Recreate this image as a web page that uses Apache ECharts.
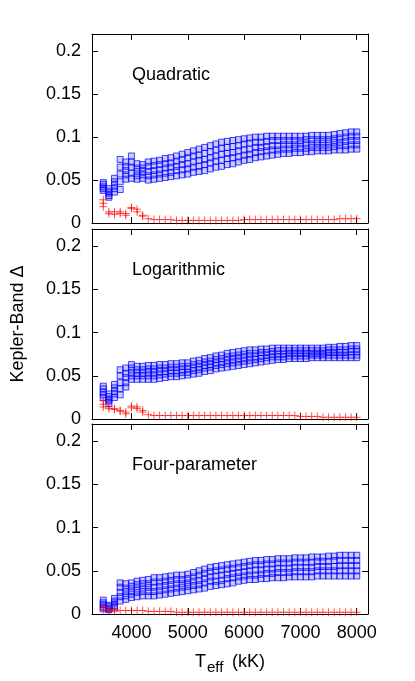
<!DOCTYPE html>
<html>
<head>
<meta charset="utf-8">
<script src="https://cdn.jsdelivr.net/npm/echarts@6/dist/echarts.min.js"></script>
<style>
  html, body { margin: 0; padding: 0; background: #fff; }
  #chart { width: 415px; height: 681px; }
</style>
</head>
<body>
<div id="chart"></div>
<script>
// effective temperature grid (K)
const temps = [3500,3600,3700,3800,3900,4000,4100,4200,4300,4400,4500,4600,4700,4800,4900,
  5000,5100,5200,5300,5400,5500,5600,5700,5800,5900,6000,6100,6200,6300,6400,6500,6600,
  6700,6800,6900,7000,7100,7200,7300,7400,7500,7600,7700,7800,7900,8000];
const xTicks = [4000, 5000, 6000, 7000, 8000];
const yTicks = [0, 0.05, 0.1, 0.15, 0.2];
const panelNames = ['Quadratic', 'Logarithmic', 'Four-parameter'];

// Quadratic law: blue squares, read per temperature column (low -> high)
const quad1 = [.038,.030,.036,.039,.051,.052,.051,.052,.050,.051,.052,.053,.054,.055,.056,.057,.059,.060,.061,.063,.065,.066,.068,.069,.071,.073,.074,.076,.077,.078,.079,.080,.081,.081,.082,.082,.083,.083,.084,.084,.084,.085,.085,.085,.086,.086];
const quad2 = [.040,.032,.040,.048,.056,.058,.055,.056,.055,.056,.057,.058,.059,.061,.062,.063,.065,.066,.068,.070,.072,.073,.075,.076,.077,.079,.080,.082,.083,.084,.085,.085,.086,.086,.087,.087,.087,.088,.088,.088,.088,.089,.090,.090,.091,.091];
const quad3 = [.042,.035,.044,.057,.061,.065,.060,.060,.060,.061,.062,.064,.065,.066,.068,.069,.071,.073,.074,.076,.078,.080,.081,.082,.084,.085,.086,.088,.088,.089,.090,.090,.091,.091,.091,.092,.092,.092,.093,.093,.093,.094,.094,.095,.096,.096];
const quad4 = [.045,.037,.048,.065,.066,.071,.064,.064,.066,.067,.068,.069,.070,.072,.074,.076,.078,.079,.081,.083,.085,.087,.088,.089,.090,.092,.093,.094,.094,.095,.096,.096,.096,.096,.096,.096,.097,.097,.097,.097,.097,.098,.099,.100,.101,.101];
const quad5 = [.047,.040,.052,.074,.071,.078,.069,.068,.071,.072,.073,.075,.076,.078,.080,.082,.084,.086,.088,.090,.092,.094,.095,.096,.097,.098,.099,.100,.100,.101,.101,.101,.101,.101,.101,.101,.101,.102,.102,.102,.102,.103,.104,.105,.106,.106];
const quadRed = [.023,.011,.010,.011,.009,.017,.013,.008,.005,.004,.004,.004,.004,.003,.003,.003,.003,.003,.003,.003,.003,.003,.003,.003,.003,.004,.004,.004,.004,.004,.004,.004,.004,.004,.004,.004,.004,.004,.004,.004,.004,.004,.005,.005,.005,.005];
const quadRedExtraT = [3500,3500,3600,3700,3800,3900,4000,4100,4200];
const quadRedExtraV = [.027,.019,.013,.013,.013,.011,.018,.016,.009];

// Logarithmic law
const log1 = [.025,.018,.025,.028,.037,.046,.046,.046,.046,.046,.047,.048,.049,.049,.050,.051,.052,.053,.055,.056,.058,.059,.060,.061,.062,.063,.064,.065,.066,.067,.068,.069,.069,.070,.070,.070,.070,.071,.071,.071,.071,.071,.071,.071,.071,.071];
const log2 = [.028,.021,.029,.035,.042,.050,.050,.050,.050,.050,.051,.052,.053,.053,.054,.054,.056,.057,.059,.060,.062,.063,.064,.065,.066,.067,.068,.069,.070,.071,.072,.072,.072,.073,.073,.073,.073,.074,.074,.074,.074,.074,.074,.074,.074,.074];
const log3 = [.031,.023,.032,.042,.048,.054,.053,.053,.054,.054,.055,.055,.056,.056,.057,.058,.059,.060,.062,.063,.065,.066,.068,.069,.070,.071,.072,.072,.073,.074,.075,.075,.075,.076,.076,.076,.076,.076,.076,.076,.077,.077,.077,.077,.078,.078];
const log4 = [.035,.026,.036,.050,.053,.059,.057,.057,.058,.058,.059,.059,.060,.060,.061,.061,.063,.064,.066,.067,.069,.070,.072,.073,.074,.075,.076,.076,.077,.077,.078,.079,.079,.079,.079,.079,.079,.079,.079,.079,.080,.080,.080,.080,.081,.081];
const log5 = [.038,.029,.040,.057,.059,.063,.061,.061,.062,.062,.063,.063,.064,.064,.065,.065,.067,.068,.070,.071,.073,.074,.076,.077,.078,.079,.080,.080,.081,.081,.082,.082,.082,.082,.082,.082,.082,.082,.082,.082,.083,.083,.084,.084,.085,.085];
const logRed = [.017,.012,.011,.009,.006,.013,.012,.008,.005,.004,.004,.004,.004,.004,.004,.004,.004,.004,.004,.004,.004,.004,.004,.004,.004,.004,.004,.004,.004,.004,.004,.004,.004,.004,.004,.003,.003,.003,.003,.002,.002,.002,.002,.002,.002,.002];
const logRedExtraT = [3500,3500,3600,3700,3800,3900,4000,4100,4200];
const logRedExtraV = [.021,.014,.014,.012,.010,.008,.015,.014,.010];

// Four-parameter law
const four1 = [.006,.005,.008,.015,.017,.019,.020,.021,.021,.021,.022,.023,.024,.025,.026,.027,.028,.029,.030,.032,.033,.034,.035,.036,.038,.039,.040,.040,.041,.041,.042,.042,.042,.043,.043,.043,.043,.043,.044,.044,.044,.044,.044,.044,.044,.044];
const four2 = [.008,.006,.010,.020,.021,.023,.025,.026,.026,.026,.027,.028,.029,.030,.031,.032,.033,.034,.036,.038,.038,.039,.041,.042,.043,.044,.045,.045,.046,.047,.047,.048,.048,.048,.049,.049,.049,.049,.050,.050,.050,.050,.050,.050,.050,.050];
const four3 = [.011,.007,.013,.025,.026,.027,.029,.030,.031,.031,.032,.033,.034,.035,.035,.036,.038,.039,.041,.043,.044,.045,.046,.047,.048,.049,.050,.051,.051,.052,.052,.053,.053,.053,.054,.054,.054,.054,.055,.055,.055,.055,.056,.056,.056,.056];
const four4 = [.013,.009,.015,.031,.030,.032,.034,.035,.035,.037,.037,.038,.039,.040,.040,.041,.043,.045,.047,.049,.050,.051,.052,.053,.054,.055,.056,.057,.057,.058,.058,.059,.059,.059,.060,.060,.060,.060,.061,.061,.061,.062,.062,.062,.062,.062];
const four5 = [.016,.010,.018,.036,.035,.036,.038,.039,.040,.042,.042,.043,.044,.045,.045,.046,.048,.050,.052,.054,.055,.056,.057,.058,.059,.060,.061,.062,.062,.063,.063,.064,.064,.064,.065,.065,.065,.066,.066,.066,.067,.067,.068,.068,.068,.068];
const fourRed = [.008,.005,.005,.004,.004,.004,.004,.004,.003,.003,.003,.003,.003,.002,.002,.002,.002,.002,.002,.002,.002,.002,.002,.002,.002,.002,.002,.002,.002,.002,.002,.002,.002,.002,.002,.002,.002,.002,.002,.002,.002,.002,.002,.002,.002,.002];
const fourRedExtraT = [3500,3600,3700];
const fourRedExtraV = [.005,.004,.003];

const panels = [
  { blue: [quad1, quad2, quad3, quad4, quad5], red: quadRed, exT: quadRedExtraT, exV: quadRedExtraV },
  { blue: [log1, log2, log3, log4, log5], red: logRed, exT: logRedExtraT, exV: logRedExtraV },
  { blue: [four1, four2, four3, four4, four5], red: fourRed, exT: fourRedExtraT, exV: fourRedExtraV }
];

const font = 'Liberation Sans';
const plusPath = 'path://M0,5L10,5M5,0L5,10';
const gridTops = [34, 229, 424];
const gridHeights = [189, 190, 190];

let chart = echarts.init(document.getElementById('chart'));

const grid = gridTops.map((t, i) => ({ left: 92, right: 47, top: t, height: gridHeights[i] }));
const xAxis = [];
const yAxis = [];
const series = [];

gridTops.forEach((t, i) => {
  const last = i === 2;
  ['bottom', 'top'].forEach(pos => {
    xAxis.push({
      gridIndex: i, type: 'value', position: pos, min: 3300, max: 8200,
      axisLine: { show: true, onZero: false, lineStyle: { color: '#000', width: 1 } },
      axisTick: { show: true, inside: true, length: 6, customValues: xTicks, lineStyle: { color: '#000' } },
      axisLabel: {
        show: last && pos === 'bottom', customValues: xTicks, margin: 10,
        color: '#000', fontSize: 18, fontFamily: font,
        formatter: v => String(v)
      },
      splitLine: { show: false }
    });
  });
  ['left', 'right'].forEach(pos => {
    yAxis.push({
      gridIndex: i, type: 'value', position: pos, min: 0, max: 0.22,
      axisLine: { show: true, onZero: false, lineStyle: { color: '#000', width: 1 } },
      axisTick: { show: true, inside: true, length: 6, customValues: yTicks, lineStyle: { color: '#000' } },
      axisLabel: {
        show: pos === 'left', customValues: yTicks, margin: 11,
        color: '#000', fontSize: 18, fontFamily: font
      },
      splitLine: { show: false }
    });
  });

  const p = panels[i];
  p.blue.forEach(track => {
    series.push({
      type: 'scatter', xAxisIndex: i * 2, yAxisIndex: i * 2,
      symbol: 'rect', symbolSize: 6,
      itemStyle: { color: 'rgba(40,40,255,0.3)', borderColor: 'rgba(0,0,255,0.9)', borderWidth: 1 },
      data: temps.map((tt, k) => [tt, track[k]]),
      silent: true
    });
  });
  series.push({
    type: 'scatter', xAxisIndex: i * 2, yAxisIndex: i * 2,
    symbol: plusPath, symbolSize: 8,
    itemStyle: { color: 'none', borderColor: 'rgba(255,0,0,0.85)', borderWidth: 1 },
    data: temps.map((tt, k) => [tt, p.red[k]]).concat(p.exT.map((tt, k) => [tt, p.exV[k]])),
    silent: true
  });
});

const graphic = panelNames.map((name, i) => ({
  type: 'text', x: 132, y: gridTops[i] + 41,
  style: { text: name, fontSize: 18, fontFamily: font, fill: '#000', textVerticalAlign: 'middle' }
}));
graphic.push(
  { type: 'text', x: 18, y: 324, rotation: Math.PI / 2,
    style: { text: 'Kepler-Band Δ', fontSize: 18, fontFamily: font, fill: '#000', textAlign: 'center', textVerticalAlign: 'middle' } },
  { type: 'text', x: 195, y: 662,
    style: { text: 'T', fontSize: 18, fontFamily: font, fill: '#000', textVerticalAlign: 'middle' } },
  { type: 'text', x: 207, y: 668,
    style: { text: 'eff', fontSize: 15, fontFamily: font, fill: '#000', textVerticalAlign: 'middle' } },
  { type: 'text', x: 232, y: 662,
    style: { text: '(kK)', fontSize: 18, fontFamily: font, fill: '#000', textVerticalAlign: 'middle' } }
);

chart.setOption({
  animation: false,
  grid: grid,
  xAxis: xAxis,
  yAxis: yAxis,
  series: series,
  graphic: graphic
});
</script>
</body>
</html>
